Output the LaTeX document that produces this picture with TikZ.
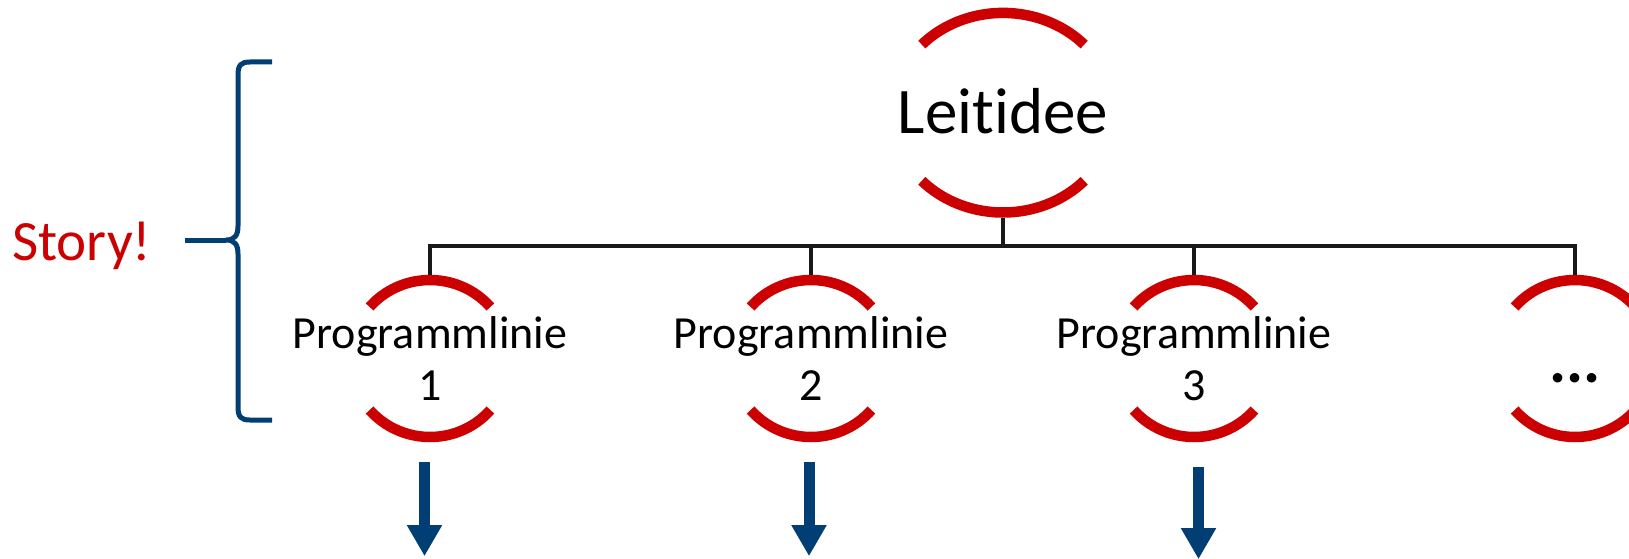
\documentclass[tikz,border=0pt]{standalone}
\usepackage{fontspec}
\setmainfont{Carlito}[Ligatures={NoCommon}]
\usetikzlibrary{arrows.meta}
\definecolor{ared}{RGB}{204,0,0}
\definecolor{ablue}{RGB}{0,62,116}
\tikzset{
  ring/.style={circle,inner sep=0pt,minimum size=211pt},
  pl/.style={circle,inner sep=0pt,minimum size=167pt},
  bigtext/.style={inner sep=0pt,font=\fontsize{65}{70}\selectfont},
  pltext/.style={inner sep=0pt,align=center,font=\fontsize{46}{52}\selectfont},
  redarc/.style={draw=ared,line width=10.5pt,line cap=butt},
  tree/.style={draw=black!90,line width=3.5pt},
  barrow/.style={draw=ablue,line width=11pt,-{Triangle[width=33pt,length=31pt]}},
  bracestyle/.style={draw=ablue,line width=5pt,line cap=butt}
}
\begin{document}
\begin{tikzpicture}[x=1pt,y=1pt]
\useasboundingbox (0,0) rectangle (1629,-559);
\clip (0,0) rectangle (1629,-559);
% main idea
\node[ring] (L) at (1003,-112.7) {};
\node[bigtext] (Lt) at (1003,-111) {Leitidee};
\draw[redarc] ([shift={(43:111 and 99.8)}]L.center) arc[start angle=43,end angle=137,x radius=111,y radius=99.8];
\draw[redarc] ([shift={(223:111 and 99.8)}]L.center) arc[start angle=223,end angle=317,x radius=111,y radius=99.8];
% program lines
\node[pl] (p1) at (430,-358.5) {};
\node[pl] (p2) at (811,-358.5) {};
\node[pl] (p3) at (1194,-358.5) {};
\node[pl] (p4) at (1575,-358.5) {};
\node[pltext] (t1) at (p1) {Programmlinie\\1};
\node[pltext] (t2) at (p2) {Programmlinie\\2};
\node[pltext] (t3) at (p3) {Programmlinie\\3};
\node[anchor=base,inner sep=0pt,font=\fontsize{64}{70}\selectfont\bfseries] (t4) at (1575,-382) {...};
\foreach \n in {p1,p2,p3,p4}{
  \draw[redarc] ([shift={(41:80 and 78.5)}]\n.center) arc[start angle=41,end angle=139,x radius=80,y radius=78.5];
  \draw[redarc] ([shift={(221:80 and 78.5)}]\n.center) arc[start angle=221,end angle=319,x radius=80,y radius=78.5];
}
% tree connectors
\coordinate (hub) at (1003,-246);
\draw[tree] (L.south) -- (hub);
\draw[tree] (hub) -| (p1.north);
\draw[tree] (hub) -| (p2.north);
\draw[tree] (hub) -| (p3.north);
\draw[tree] (hub) -| (p4.north);
% arrows
\draw[barrow] ([xshift=-5.5pt,yshift=-20pt]p1.south) -- ++(0,-94);
\draw[barrow] ([xshift=-2pt,yshift=-20pt]p2.south) -- ++(0,-94);
\draw[barrow] ([xshift=4.5pt,yshift=-25pt]p3.south) -- ++(0,-92);
% brace
\draw[bracestyle] (272,-62) -- (250,-62) .. controls (241,-62) and (238,-65) .. (238,-75)
  -- (238,-226) .. controls (238,-235) and (235,-240) .. (226,-240)
  .. controls (235,-240) and (238,-245) .. (238,-254)
  -- (238,-407) .. controls (238,-417) and (241,-420) .. (250,-420) -- (272,-420);
\draw[bracestyle] (185,-240) -- (226,-240);
\node[anchor=base west,inner sep=0pt,text=ared,font=\fontsize{57}{60}\selectfont] (story) at (12,-260) {Story!};
\end{tikzpicture}
\end{document}
